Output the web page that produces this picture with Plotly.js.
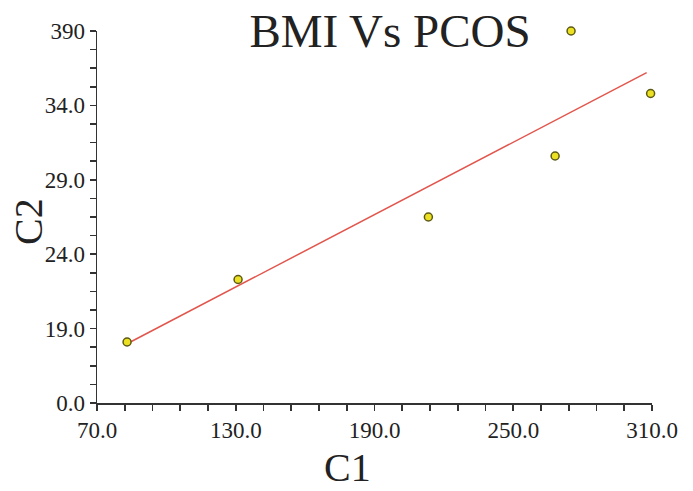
<!DOCTYPE html>
<html>
<head>
<meta charset="utf-8">
<script src="https://cdn.plot.ly/plotly-3.0.1.min.js"></script>
<style>html,body{margin:0;padding:0;background:#fff;}#chart{width:693px;height:491px;}</style>
</head>
<body>
<div id="chart"></div>
<script>
// Data
const c1 = [83, 131, 213.3, 268.1, 275, 309.4];
const c2 = [18.1, 22.3, 26.5, 30.6, 39.0, 34.8];
const fitX = [83.2, 307.7];
const fitY = [18.0, 36.2];
const xTickVals = [70, 130, 190, 250, 310];
const xTickText = ["70.0", "130.0", "190.0", "250.0", "310.0"];
const yTickVals = [14, 19, 24, 29, 34, 39];
const yTickText = ["0.0", "19.0", "24.0", "29.0", "34.0", "390"];
const xTickSteps = 5;   // tick marks between labelled ticks on x
const yTickSteps = 4;   // tick marks between labelled ticks on y

const serif = "Liberation Serif, Times New Roman, serif";
const axisColor = "#333333";

// Build full tick sets (labelled + unlabelled marks) from the labelled ticks
function buildTicks(vals, texts, steps) {
  const tv = [], tt = [];
  for (let i = 0; i < vals.length; i++) {
    tv.push(vals[i]); tt.push(texts[i]);
    if (i < vals.length - 1) {
      const d = (vals[i + 1] - vals[i]) / steps;
      for (let k = 1; k < steps; k++) { tv.push(vals[i] + k * d); tt.push(""); }
    }
  }
  return {tv, tt};
}
const xt = buildTicks(xTickVals, xTickText, xTickSteps);
const yt = buildTicks(yTickVals, yTickText, yTickSteps);

const traces = [
  {
    x: fitX, y: fitY, type: "scatter", mode: "lines",
    line: {color: "#e2554c", width: 1.5},
    hoverinfo: "skip", showlegend: false
  },
  {
    x: c1, y: c2, type: "scatter", mode: "markers",
    marker: {size: 8, color: "#ebe022", line: {color: "#5c5a14", width: 1.5}},
    cliponaxis: false, showlegend: false
  }
];

const axisCommon = {
  showgrid: false, zeroline: false, showline: true,
  linecolor: axisColor, linewidth: 1.5,
  ticks: "outside", ticklen: 6, tickwidth: 1.6, tickcolor: axisColor,
  tickmode: "array",
  tickfont: {family: serif, size: 23, color: "#222"}
};

const layout = {
  width: 693, height: 491,
  paper_bgcolor: "#fff", plot_bgcolor: "#fff",
  margin: {l: 97, r: 41, t: 31, b: 88, pad: 0},
  title: {
    text: "BMI Vs PCOS",
    font: {family: serif, size: 47, color: "#222"},
    xref: "container", x: 390 / 693, xanchor: "center",
    yref: "container", y: 1 - 31 / 491, yanchor: "middle"
  },
  xaxis: Object.assign({}, axisCommon, {
    range: [70, 310],
    tickvals: xt.tv, ticktext: xt.tt
  }),
  yaxis: Object.assign({}, axisCommon, {
    range: [14, 39],
    tickvals: yt.tv, ticktext: yt.tt
  }),
  annotations: [
    {
      text: "C1", xref: "paper", yref: "paper",
      x: (347.5 - 97) / 555, y: -(492 - 403) / 372,
      xanchor: "center", yanchor: "bottom", showarrow: false,
      font: {family: serif, size: 40, color: "#222"}
    },
    {
      text: "C2", xref: "paper", yref: "paper",
      x: (28.5 - 97) / 555, y: (403 - 221.5) / 372, textangle: -90,
      xanchor: "center", yanchor: "middle", showarrow: false,
      font: {family: serif, size: 40, color: "#222"}
    }
  ]
};

Plotly.newPlot("chart", traces, layout, {displayModeBar: false, staticPlot: true});
</script>
</body>
</html>
